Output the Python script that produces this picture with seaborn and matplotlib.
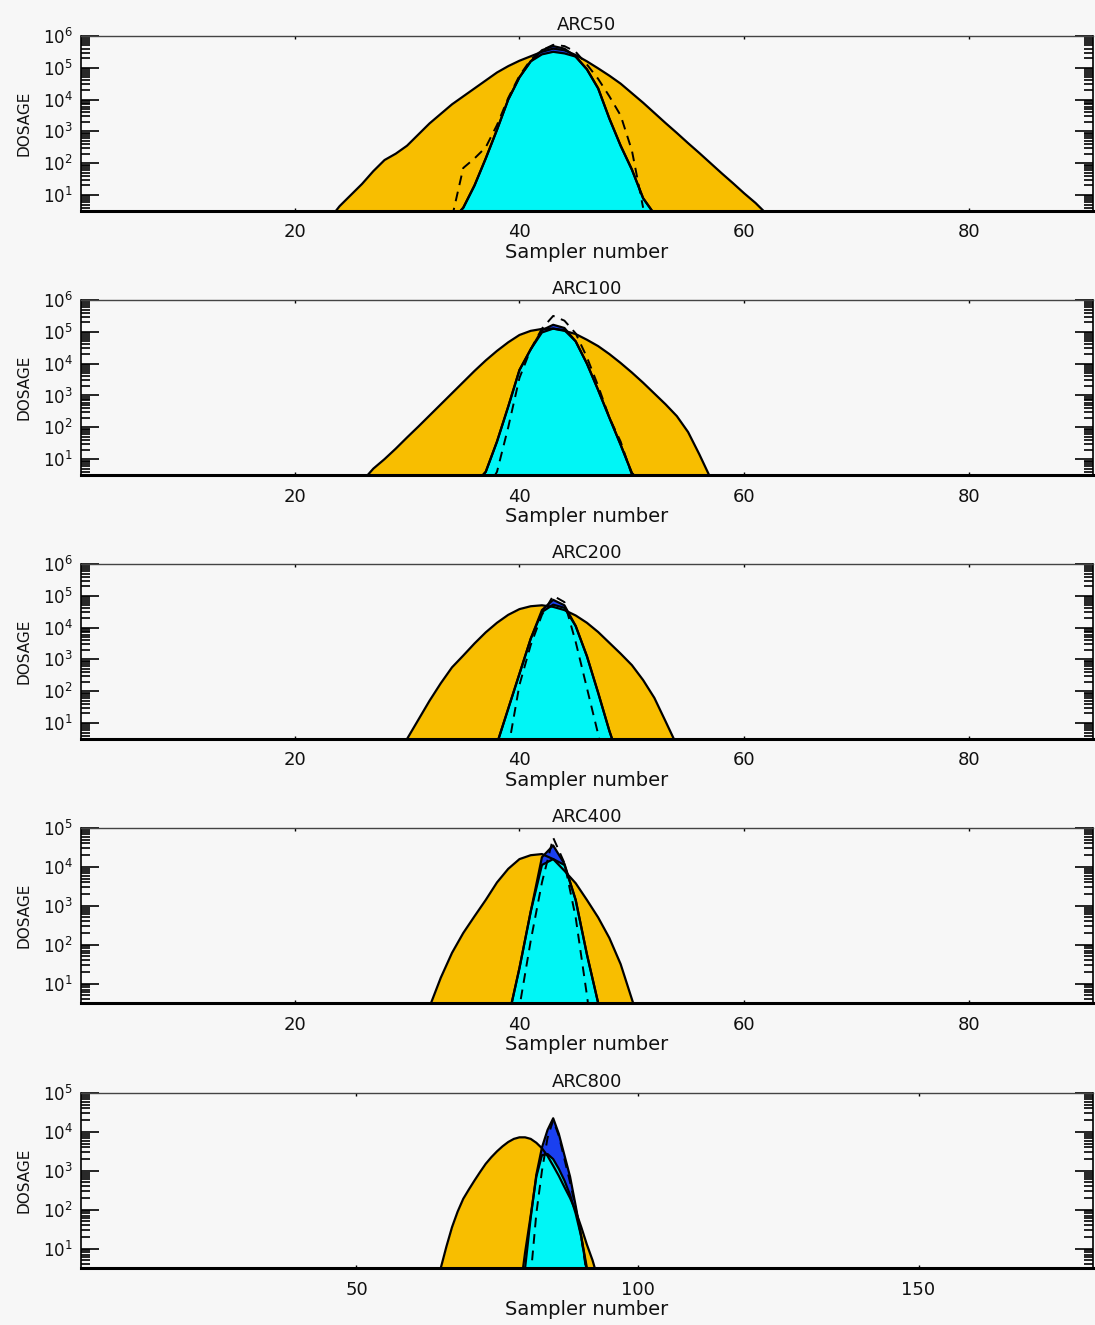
import numpy as np
import matplotlib
matplotlib.use('Agg')
import matplotlib.pyplot as plt
import seaborn as sns
from matplotlib.ticker import LogLocator, NullFormatter

# panels
panel_names = ['ARC50', 'ARC100', 'ARC200', 'ARC400', 'ARC800']
x_limits = [(1, 91), (1, 91), (1, 91), (1, 91), (1, 181)]
x_tick_values = [[20, 40, 60, 80]] * 4 + [[50, 100, 150]]
y_top = [1e6, 1e6, 1e6, 1e5, 1e5]

# log10(dosage) per sampler number
# broad = orange, core = cyan, peak = blue, ref = dashed line
arc50_broad_x = np.arange(23, 63)
arc50_broad = [0.2, 0.65, 1.0, 1.35, 1.75, 2.1, 2.3, 2.55, 2.9, 3.25,
               3.55, 3.85, 4.1, 4.35, 4.6, 4.85, 5.05, 5.22, 5.36, 5.5,
               5.6, 5.55, 5.4, 5.2, 4.98, 4.75, 4.5, 4.2, 3.9, 3.58,
               3.26, 2.95, 2.63, 2.32, 2.0, 1.68, 1.37, 1.05, 0.75, 0.4]
arc50_core_x = np.arange(34, 53)
arc50_core = [0.2, 0.6, 1.3, 2.15, 3.05, 4.0, 4.7, 5.2, 5.42, 5.5,
              5.45, 5.35, 4.95, 4.35, 3.4, 2.55, 1.8, 0.9, 0.4]
arc50_peak = [0.2, 0.6, 1.3, 2.15, 3.05, 4.0, 4.7, 5.2, 5.55, 5.68,
              5.6, 5.35, 4.95, 4.35, 3.4, 2.55, 1.8, 0.9, 0.4]
arc50_ref_x = np.arange(34, 52)
arc50_ref = [0.3, 1.85, 2.15, 2.5, 3.2, 4.05, 4.75, 5.25, 5.55, 5.72,
             5.68, 5.5, 5.1, 4.65, 4.1, 3.5, 2.4, 0.6]

arc100_broad_x = np.arange(26, 58)
arc100_broad = [0.3, 0.7, 1.0, 1.33, 1.68, 2.02, 2.37, 2.72, 3.07, 3.42,
                3.77, 4.1, 4.4, 4.67, 4.9, 5.03, 5.09, 5.1, 5.03, 4.93,
                4.75, 4.55, 4.3, 4.02, 3.72, 3.4, 3.06, 2.72, 2.35, 1.85,
                1.15, 0.4]
arc100_core_x = np.arange(36, 52)
arc100_core = [0.2, 0.6, 1.55, 2.65, 3.8, 4.45, 4.98, 5.1, 5.05, 4.7,
               4.0, 3.17, 2.3, 1.45, 0.56, 0.2]
arc100_peak = [0.2, 0.6, 1.55, 2.65, 3.8, 4.45, 5.05, 5.22, 5.12, 4.7,
               4.0, 3.17, 2.3, 1.45, 0.56, 0.2]
arc100_ref_x = np.arange(37, 51)
arc100_ref = [0.0, 0.6, 2.0, 3.55, 4.45, 5.1, 5.5, 5.35, 4.95, 4.2,
              3.3, 2.3, 1.55, 0.5]

arc200_broad_x = np.arange(29, 55)
arc200_broad = [0.0, 0.5, 1.1, 1.7, 2.25, 2.75, 3.12, 3.5, 3.85, 4.15,
                4.4, 4.58, 4.67, 4.7, 4.65, 4.55, 4.38, 4.15, 3.86, 3.52,
                3.18, 2.82, 2.35, 1.79, 1.05, 0.3]
arc200_core_x = np.arange(37, 50)
arc200_core = [-0.5, 0.35, 1.45, 2.55, 3.65, 4.49, 4.72, 4.62, 4.05, 3.1,
               1.95, 0.75, -0.3]
arc200_peak = [-0.5, 0.35, 1.45, 2.55, 3.65, 4.55, 4.87, 4.7, 4.05, 3.1,
               1.95, 0.75, -0.3]
arc200_ref_x = np.arange(38, 49)
arc200_ref = [-0.8, 0.2, 2.2, 3.45, 4.4, 5.0, 4.8, 3.55, 2.1, 0.65, -1.0]

arc400_broad_x = np.arange(31, 52)
arc400_broad = [-0.2, 0.4, 1.15, 1.79, 2.3, 2.73, 3.15, 3.6, 3.95, 4.2,
                4.3, 4.33, 4.2, 3.9, 3.58, 3.15, 2.7, 2.17, 1.5, 0.6, -0.3]
arc400_core_x = np.arange(38, 49)
arc400_core = [-1.2, 0.1, 1.4, 2.85, 4.05, 4.2, 4.05, 3.15, 1.75, 0.5, -1.0]
arc400_peak = [-1.2, 0.1, 1.4, 2.85, 4.25, 4.55, 4.08, 3.15, 1.75, 0.5, -1.0]
arc400_ref_x = np.arange(39, 48)
arc400_ref = [-1.5, 0.4, 2.1, 3.6, 4.75, 4.1, 2.7, 0.7, -1.5]

arc800_broad_x = np.arange(64, 94)
arc800_broad = [-0.1, 0.5, 1.05, 1.55, 1.95, 2.28, 2.52, 2.75, 2.97, 3.18,
                3.35, 3.5, 3.63, 3.74, 3.82, 3.86, 3.86, 3.82, 3.72, 3.58,
                3.38, 3.13, 2.87, 2.58, 2.3, 1.97, 1.55, 1.1, 0.7, 0.2]
arc800_core_x = np.arange(79, 93)
arc800_core = [-0.2, 0.9, 1.85, 2.85, 3.4, 3.43, 3.3, 3.05, 2.75, 2.38,
               1.9, 1.3, 0.5, -0.5]
arc800_peak = [-1.0, 0.5, 1.8, 2.9, 3.6, 4.05, 4.35, 3.95, 3.4, 2.85,
               2.1, 1.3, 0.4, -0.5]
arc800_ref_x = np.arange(80, 93)
arc800_ref = [-1.0, 0.3, 1.9, 3.0, 3.85, 4.3, 3.9, 3.3, 2.7, 2.05,
              1.3, 0.3, -1.0]

panels = [
    (arc50_broad_x, arc50_broad, arc50_core_x, arc50_core, arc50_peak, arc50_ref_x, arc50_ref),
    (arc100_broad_x, arc100_broad, arc100_core_x, arc100_core, arc100_peak, arc100_ref_x, arc100_ref),
    (arc200_broad_x, arc200_broad, arc200_core_x, arc200_core, arc200_peak, arc200_ref_x, arc200_ref),
    (arc400_broad_x, arc400_broad, arc400_core_x, arc400_core, arc400_peak, arc400_ref_x, arc400_ref),
    (arc800_broad_x, arc800_broad, arc800_core_x, arc800_core, arc800_peak, arc800_ref_x, arc800_ref),
]

bg = '#f7f7f7'
orange = '#f8be00'
cyan = '#00f6f6'
blue = '#1a40f0'

sns.set_style('ticks', {'axes.facecolor': bg, 'figure.facecolor': bg,
                        'xtick.color': 'black', 'ytick.color': 'black',
                        'axes.edgecolor': 'black', 'text.color': '#111111',
                        'axes.labelcolor': '#111111'})
plt.rcParams['font.family'] = ['DejaVu Sans']


def draw_area(ax, x, logv, color):
    y = 10.0 ** np.asarray(logv)
    ax.fill_between(x, 1e-3, y, color=color, lw=0)
    sns.lineplot(x=x, y=y, ax=ax, color='black', lw=1.6, estimator=None, sort=False)


fig = plt.figure(figsize=(10.95, 13.25), dpi=100)
fig.patch.set_facecolor(bg)
bottoms = [0.8408, 0.6415, 0.4423, 0.2430, 0.0430]

for i, name in enumerate(panel_names):
    ax = fig.add_axes([0.074, bottoms[i], 0.924, 0.1321])
    ax.set_facecolor(bg)
    ax.set_yscale('log')
    bx, broad, cx, core, peak, rx, ref = panels[i]

    draw_area(ax, bx, broad, orange)
    draw_area(ax, cx, peak, blue)
    draw_area(ax, cx, core, cyan)
    sns.lineplot(x=rx, y=10.0 ** np.asarray(ref), ax=ax, color='black', lw=1.4,
                 linestyle=(0, (5, 3.5)), estimator=None, sort=False)

    ax.set_xlim(*x_limits[i])
    ax.set_ylim(10 ** 0.5, y_top[i])
    ax.set_xticks(x_tick_values[i])
    ax.yaxis.set_major_locator(LogLocator(base=10, numticks=10))
    ax.yaxis.set_minor_locator(LogLocator(base=10, subs=np.arange(2, 10), numticks=100))
    ax.yaxis.set_minor_formatter(NullFormatter())

    ax.tick_params(axis='y', which='major', direction='in', length=13, width=1.2,
                   left=True, right=True, labelsize=12, pad=6, color='black',
                   labelcolor='#111111')
    ax.tick_params(axis='y', which='minor', direction='in', length=6.5, width=1.2,
                   left=True, right=True, color='black')
    ax.tick_params(axis='x', which='major', direction='in', length=2, width=1,
                   top=True, bottom=True, labelsize=13, pad=9, color='black',
                   labelcolor='#111111')
    ax.tick_params(axis='x', which='minor', top=False, bottom=False)

    for side in ['left', 'right']:
        ax.spines[side].set_linewidth(1.2)
        ax.spines[side].set_color('black')
    ax.spines['top'].set_linewidth(1.0)
    ax.spines['top'].set_color('#444444')
    ax.spines['bottom'].set_linewidth(2.2)
    ax.spines['bottom'].set_color('black')

    ax.set_title(name, fontsize=13, pad=4, color='#111111')
    ax.set_xlabel('Sampler number', fontsize=14, labelpad=1)
    ax.set_ylabel('DOSAGE', fontsize=11, labelpad=8)

fig.savefig('out.png', dpi=100, facecolor=bg)
